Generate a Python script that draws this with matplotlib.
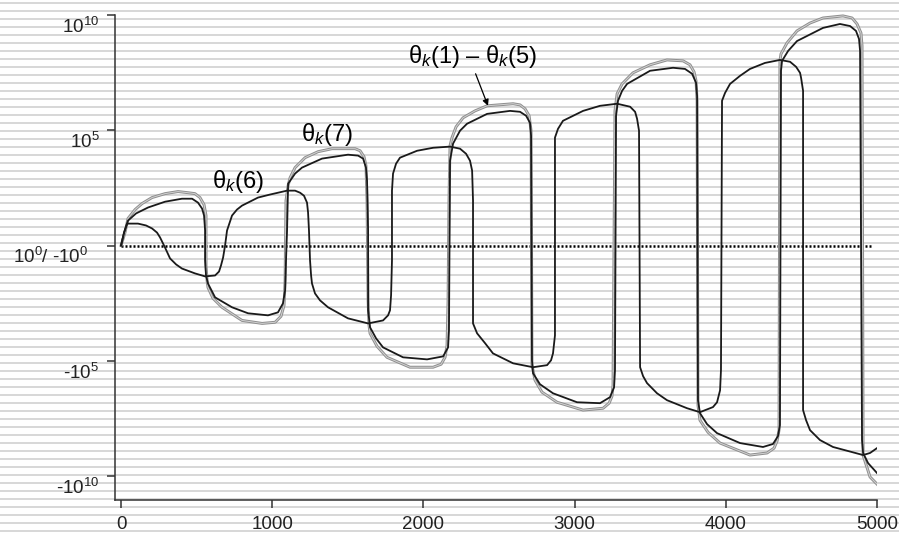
import numpy as np
import matplotlib
matplotlib.use('Agg')
from matplotlib import pyplot as plt
from matplotlib.lines import Line2D
from matplotlib import transforms

plt.rcParams['font.family'] = ['Liberation Sans', 'DejaVu Sans']
plt.rcParams['mathtext.fontset'] = 'custom'
plt.rcParams['mathtext.rm'] = 'Liberation Sans'
plt.rcParams['mathtext.it'] = 'Liberation Sans:italic'
plt.rcParams['mathtext.bf'] = 'Liberation Sans:bold'

# y values are sign(theta) * log10(|theta|)
# theta_k(1) - theta_k(5) (grey)
k_15 = [0, 26, 46, 93, 139, 205, 291, 377, 443, 489, 522, 549, 562, 562, 569, 575, 608, 668,
        800, 933, 1019, 1058, 1078, 1085, 1091, 1105, 1118, 1151, 1217, 1303, 1396, 1548, 1581,
        1607, 1620, 1627, 1634, 1640, 1647, 1693, 1759, 1911, 2064, 2117, 2143, 2156, 2163, 2169,
        2176, 2189, 2216, 2262, 2341, 2421, 2593, 2639, 2672, 2699, 2712, 2718, 2725, 2738, 2784,
        2884, 3056, 3188, 3228, 3247, 3254, 3267, 3281, 3314, 3386, 3499, 3611, 3717, 3763, 3790,
        3803, 3810, 3816, 3829, 3882, 3962, 4160, 4273, 4319, 4339, 4352, 4358, 4365, 4405, 4471,
        4557, 4643, 4775, 4835, 4868, 4894, 4901, 4908, 4954, 5000]
th_15 = [0, 0.56, 1.17, 1.56, 1.82, 2.08, 2.25, 2.34, 2.29, 2.25, 2.08, 1.77, 1.30, -0.87, -1.52,
         -1.82, -2.29, -2.68, -3.25, -3.38, -3.33, -3.07, -2.60, -1.52, 1.95, 2.60, 2.94, 3.38,
         3.81, 4.07, 4.20, 4.20, 4.11, 3.85, 3.46, 1.95, -2.38, -3.46, -3.81, -4.37, -4.85, -5.28,
         -5.28, -5.15, -4.85, -4.33, -2.38, 1.95, 4.33, 4.68, 5.15, 5.54, 5.84, 6.06, 6.15, 6.10,
         5.93, 5.63, 4.98, -5.19, -5.41, -5.84, -6.36, -6.80, -7.14, -7.06, -6.84, -6.54, -6.06,
         5.84, 6.58, 7.01, 7.49, 7.84, 8.05, 8.01, 7.84, 7.53, 7.14, 6.28, -6.93, -7.58, -8.10,
         -8.57, -9.09, -9.00, -8.79, -8.48, -8.01, 8.01, 8.31, 8.79, 9.31, 9.65, 9.87, 9.96, 9.87,
         9.61, 9.22, 8.66, -9.10, -10.04, -10.35]

# theta_k(7)
k_7 = [0, 20, 46, 99, 179, 291, 403, 470, 509, 536, 549, 556, 556, 562, 575, 622, 734, 840, 972,
       1038, 1071, 1085, 1091, 1098, 1105, 1151, 1197, 1329, 1501, 1568, 1601, 1620, 1627, 1634,
       1634, 1647, 1687, 1733, 1865, 2024, 2130, 2163, 2169, 2176, 2196, 2242, 2288, 2421, 2573,
       2639, 2679, 2705, 2712, 2718, 2725, 2771, 2857, 3016, 3168, 3234, 3261, 3267, 3274, 3287,
       3314, 3347, 3499, 3651, 3730, 3777, 3803, 3810, 3816, 3829, 3876, 3942, 4094, 4246, 4312,
       4345, 4358, 4365, 4372, 4412, 4471, 4643, 4755, 4822, 4861, 4881, 4888, 4901, 4908, 4941,
       5000]
th_7 = [0, 0.56, 1.08, 1.39, 1.65, 1.90, 2.03, 2.03, 1.86, 1.60, 1.30, 0.65, -0.65, -1.30, -1.65,
        -2.25, -2.68, -2.94, -3.03, -2.90, -2.51, -1.95, -0.65, 0.65, 2.68, 3.12, 3.38, 3.77, 3.94,
        3.90, 3.77, 3.38, 2.81, 0.65, -2.81, -3.55, -4.03, -4.42, -4.85, -4.94, -4.81, -4.42,
        -3.68, 3.68, 4.42, 4.98, 5.28, 5.71, 5.84, 5.80, 5.63, 5.32, 4.76, -4.98, -5.54, -6.02,
        -6.41, -6.80, -6.84, -6.58, -6.15, -5.41, 5.63, 6.28, 6.71, 7.01, 7.58, 7.71, 7.66, 7.45,
        7.06, 6.49, -6.71, -7.27, -7.75, -8.14, -8.57, -8.74, -8.61, -8.27, -7.79, 7.58, 8.01,
        8.44, 8.87, 9.44, 9.61, 9.52, 9.31, 8.96, 8.44, -8.44, -9.00, -9.44, -9.87]

# theta_k(6)
k_6 = [0, 20, 40, 112, 165, 205, 238, 258, 291, 324, 364, 403, 489, 556, 622, 648, 661, 675, 688,
       701, 734, 767, 800, 906, 985, 1098, 1151, 1184, 1210, 1230, 1237, 1243, 1250, 1257, 1263,
       1283, 1316, 1369, 1501, 1634, 1733, 1766, 1779, 1786, 1792, 1792, 1799, 1819, 1845, 1958,
       2064, 2176, 2242, 2282, 2308, 2322, 2328, 2328, 2355, 2408, 2460, 2593, 2725, 2818, 2844,
       2857, 2870, 2870, 2890, 2923, 3056, 3168, 3281, 3367, 3400, 3413, 3426, 3433, 3453, 3479,
       3545, 3611, 3744, 3829, 3915, 3942, 3962, 3968, 3975, 3995, 4028, 4094, 4160, 4259, 4358,
       4425, 4465, 4491, 4498, 4511, 4511, 4531, 4557, 4623, 4709, 4908, 4954, 5000]
th_6 = [0, 0.56, 0.95, 0.95, 0.87, 0.74, 0.56, 0.35, -0.09, -0.56, -0.82, -1.00, -1.21, -1.34,
        -1.30, -1.13, -0.87, -0.52, 0, 0.65, 1.30, 1.56, 1.73, 2.08, 2.21, 2.38, 2.38, 2.29, 2.16,
        1.86, 1.43, 0.65, -0.65, -1.30, -1.65, -2.08, -2.38, -2.68, -3.16, -3.38, -3.25, -3.03,
        -2.81, -2.16, -0.65, 2.38, 3.12, 3.55, 3.81, 4.11, 4.24, 4.29, 4.20, 3.98, 3.68, 3.25, 1.95,
        -3.38, -3.81, -4.24, -4.68, -5.11, -5.28, -5.19, -4.98, -4.68, -3.90, 4.68, 5.06, 5.41,
        5.84, 6.06, 6.15, 6.02, 5.80, 5.50, 4.98, -5.28, -5.67, -5.97, -6.41, -6.71, -7.06, -7.23,
        -7.01, -6.80, -6.28, -5.41, 6.28, 6.62, 7.01, 7.36, 7.66, 7.92, 8.05, 7.97, 7.75, 7.49,
        7.27, 6.71, -7.14, -7.58, -8.01, -8.44, -8.74, -9.09, -9.00, -8.79]

ytick_pos = [10, 5, 0, -5, -10]
ytick_labels = ['10$^{10}$', '10$^{5}$', '10$^{0}$/ -10$^{0}$', '-10$^{5}$', '-10$^{10}$']
xtick_pos = [0, 1000, 2000, 3000, 4000, 5000]

fig = plt.figure(figsize=(8.99, 5.33), dpi=100)
fig.patch.set_facecolor('white')

# ruled-paper stripes behind everything
for yp in np.arange(2.7, 533, 8.0):
    fig.add_artist(Line2D([0, 1], [1 - yp / 533, 1 - yp / 533], transform=fig.transFigure,
                          color='#d6d6d6', lw=1.35, zorder=0))

ax = fig.add_axes([115 / 899, 1 - 500 / 533, 762 / 899, (500 - 8.07) / 533])
ax.set_facecolor('none')
ax.set_xlim(-40, 5000)
ax.set_ylim(-11.04, 10.3)

ax.plot([0, 4970], [0, 0], color='black', linestyle=(0, (0.8, 0.8)), lw=1.8, zorder=2)
ax.plot(k_15, th_15, color='#8e8e8e', lw=2.1, zorder=3, solid_joinstyle='round')
ax.plot(k_15, th_15, color='#d2d2d2', lw=0.7, zorder=3.5, solid_joinstyle='round')
ax.plot(k_7, th_7, color='#1a1a1a', lw=1.3, zorder=4, solid_joinstyle='round')
ax.plot(k_6, th_6, color='#1a1a1a', lw=1.3, zorder=5, solid_joinstyle='round')

ax.text(774, 2.79, r'θ$_{k}$(6)', fontsize=17, ha='center', va='center')
ax.text(1360, 4.81, r'θ$_{k}$(7)', fontsize=17, ha='center', va='center')
ax.text(2328, 8.18, r'θ$_{k}$(1) – θ$_{k}$(5)', fontsize=17, ha='center', va='center')
ax.annotate('', xy=(2427, 6.06), xytext=(2345, 7.45),
            arrowprops=dict(arrowstyle='-|>', color='black', lw=0.9, mutation_scale=9,
                            shrinkA=0, shrinkB=0))

for s in ['top', 'right']:
    ax.spines[s].set_visible(False)
for s in ['left', 'bottom']:
    ax.spines[s].set_color('#333333')
    ax.spines[s].set_linewidth(1.1)
ax.spines['left'].set_bounds(-11.04, 10)

ax.set_yticks(ytick_pos)
ax.set_yticklabels(ytick_labels)
ax.set_xticks(xtick_pos)
ax.tick_params(axis='both', colors='#333333', labelcolor='#222222', length=5.8, width=1.1,
               labelsize=13.5, direction='out')
ax.tick_params(axis='y', pad=5.5)
ax.tick_params(axis='x', pad=6)

# labels sit a little below their ticks, the zero label further left
for lab, val in zip(ax.get_yticklabels(), ytick_pos):
    dx = -8 / 72 if val == 0 else 0
    lab.set_transform(lab.get_transform() +
                      transforms.ScaledTranslation(dx, -7 / 72, fig.dpi_scale_trans))

fig.savefig('out.png', dpi=100)
